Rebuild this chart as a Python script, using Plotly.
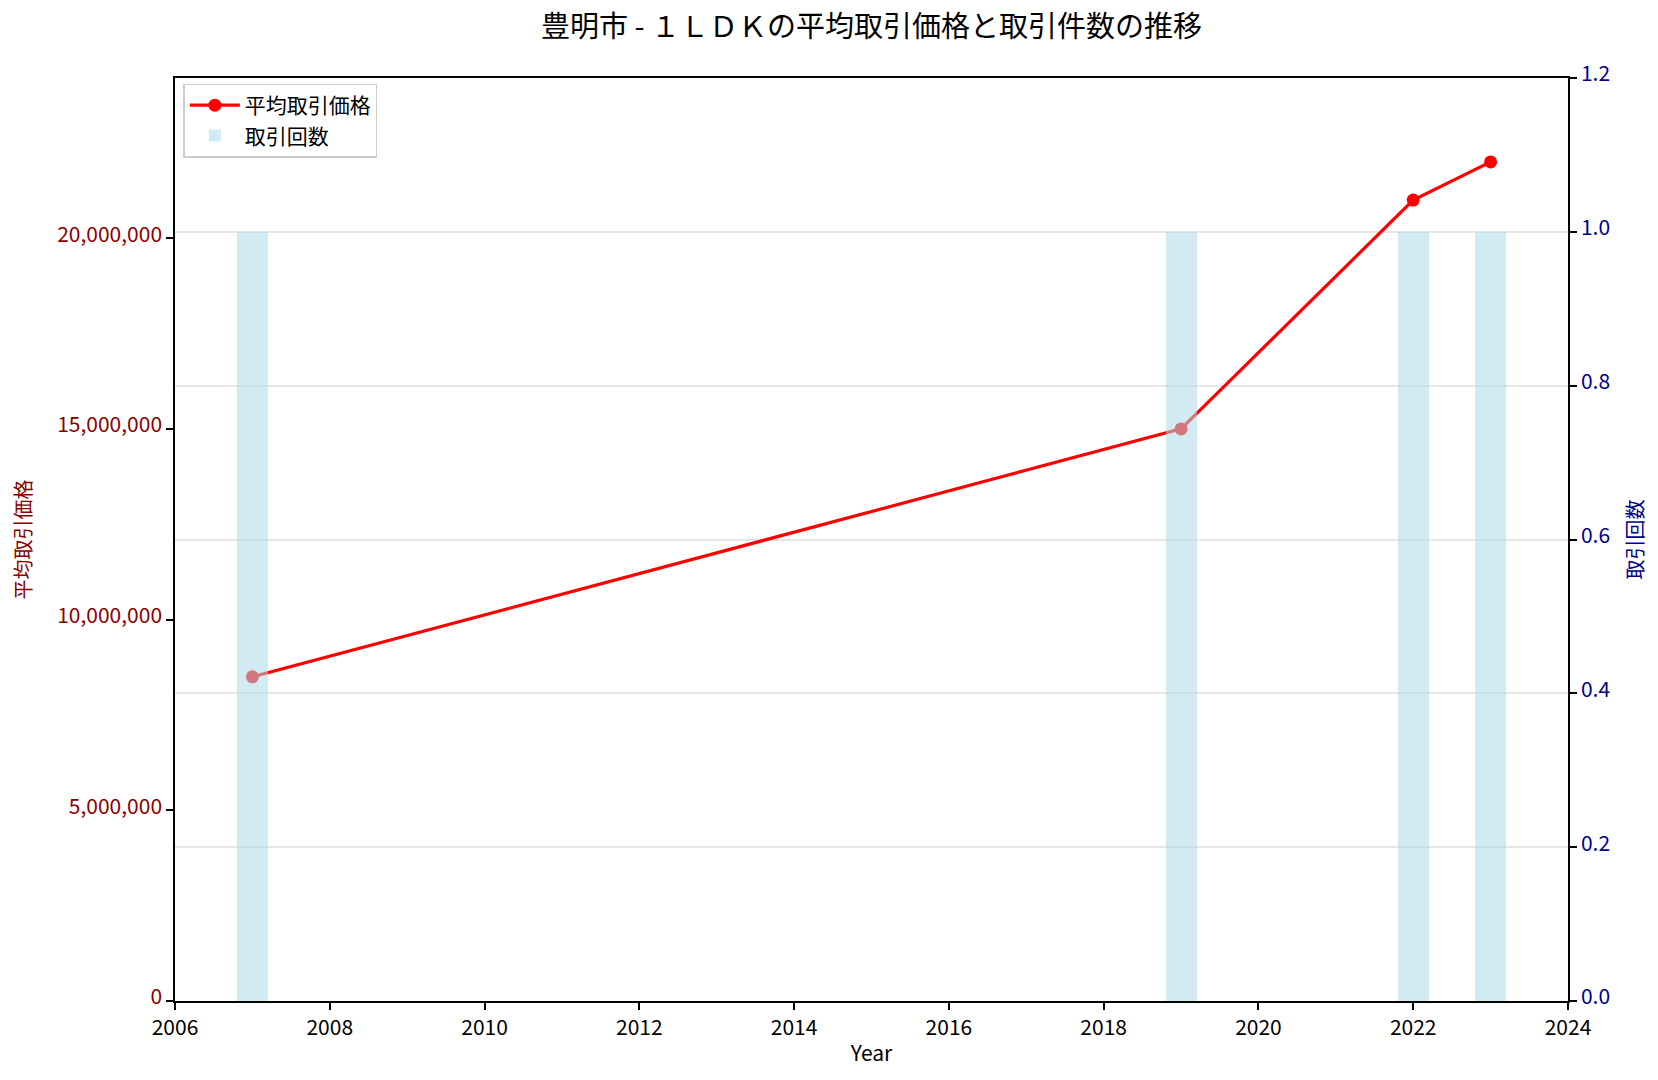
import plotly.graph_objects as go

years = [2007, 2019, 2022, 2023]
avg_price = [8500000, 15000000, 21000000, 22000000]
counts = [1, 1, 1, 1]

price_ticks = [0, 5000000, 10000000, 15000000, 20000000]
count_ticks = [0, 0.2, 0.4, 0.6, 0.8, 1.0, 1.2]

title = "豊明市 - １ＬＤＫの平均取引価格と取引件数の推移"
y1_label = "平均取引価格"
y2_label = "取引回数"
FONT = "Noto Sans CJK JP"
FS = 21

fig = go.Figure()
fig.add_trace(go.Scatter(
    x=years, y=avg_price, mode="lines+markers", name=y1_label,
    line=dict(color="red", width=3.2), marker=dict(color="red", size=13),
    yaxis="y"))
fig.add_trace(go.Bar(
    x=years, y=counts, name=y2_label, width=0.4,
    marker=dict(color="rgba(173,216,230,0.55)", line=dict(width=0)),
    yaxis="y2"))

fig.update_layout(
    width=1658, height=1080,
    margin=dict(l=175, r=90, t=78, b=79),
    paper_bgcolor="white", plot_bgcolor="white",
    font=dict(family=FONT, size=FS, color="black"),
    title=dict(text=title, xref="paper", x=0.5, xanchor="center",
               y=1 - 27 / 1080, yanchor="middle",
               font=dict(size=29, family=FONT, color="black")),
    showlegend=True,
    legend=dict(x=0.006, y=0.994, xanchor="left", yanchor="top",
                bgcolor="white", bordercolor="#cccccc", borderwidth=1.5,
                font=dict(size=FS, family=FONT), traceorder="normal",
                itemwidth=50),
    xaxis=dict(range=[2006, 2024], dtick=2, tick0=2006, showgrid=False,
               showline=True, linecolor="black", linewidth=1.5, mirror=True,
               ticks="outside", ticklen=7, tickwidth=1.5, tickcolor="black",
               tickfont=dict(size=FS, color="black"),
               title=dict(text="Year", font=dict(size=FS), standoff=6), zeroline=False),
    yaxis=dict(range=[0, 24200000], tickvals=price_ticks,
               tickformat=",d", showgrid=False, zeroline=False,
               showline=True, linecolor="black", linewidth=1.5,
               ticks="outside", ticklen=7, tickwidth=1.5, tickcolor="black",
               ticklabelshift=-4,
               tickfont=dict(size=FS, color="#8B0000")),
    yaxis2=dict(range=[0, 1.2], tickvals=count_ticks,
                tickformat=".1f", overlaying="y", side="right",
                showgrid=True, gridcolor="rgba(200,200,200,0.45)", gridwidth=1.5,
                zeroline=False, showline=True, linecolor="black", linewidth=1.5,
                ticks="outside", ticklen=7, tickwidth=1.5, tickcolor="black",
                ticklabelshift=-4,
                tickfont=dict(size=FS, color="#00008B")),
    bargap=0,
    annotations=[
        dict(text=y1_label, xref="paper", yref="paper", x=(22 - 175) / 1393, y=0.5,
             xanchor="center", yanchor="middle", textangle=-90, showarrow=False,
             font=dict(size=FS - 1, color="#8B0000", family=FONT)),
        dict(text=y2_label, xref="paper", yref="paper", x=(1634 - 175) / 1393, y=0.5,
             xanchor="center", yanchor="middle", textangle=-90, showarrow=False,
             font=dict(size=FS - 1, color="#00008B", family=FONT)),
    ],
)

fig.write_html("out.html")
